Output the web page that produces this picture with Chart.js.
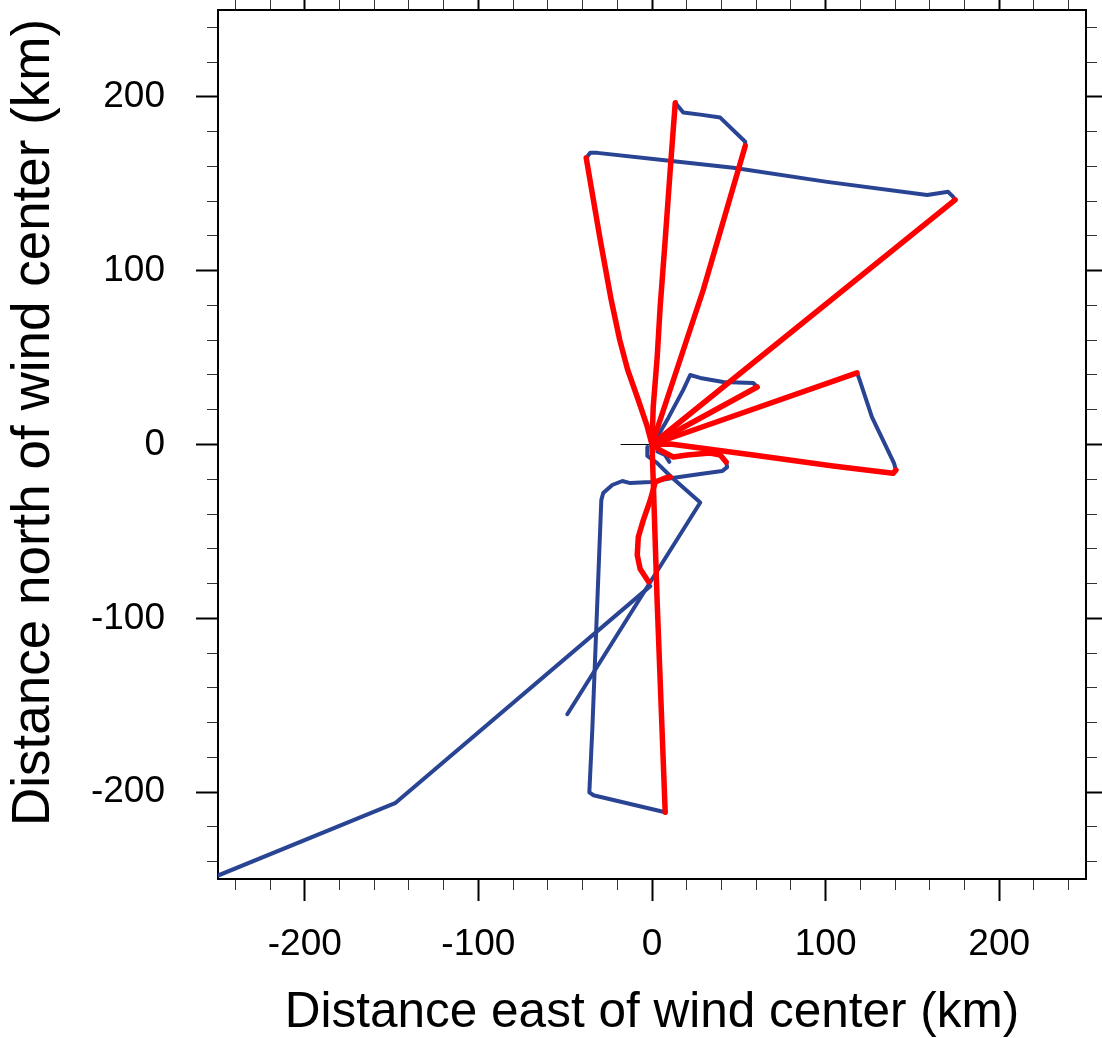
<!DOCTYPE html>
<html>
<head>
<meta charset="utf-8">
<script src="https://cdn.jsdelivr.net/npm/chart.js@4/dist/chart.umd.min.js"></script>
<style>
html,body{margin:0;padding:0;background:#fff;}
#wrap{width:1102px;height:1038px;position:relative;}
canvas{display:block;}
</style>
</head>
<body>
<div id="wrap"><canvas id="c" width="1102" height="1038"></canvas></div>
<script>
// ---- axis tick values ----
const axisMin = -250, axisMax = 250;
const majorTicks = [-200, -100, 0, 100, 200];
const minorTicks = [-240,-220,-180,-160,-140,-120,-80,-60,-40,-20,20,40,60,80,120,140,160,180,220,240];

// ---- blue track legs (km east, km north) ----
const blueLegSouthwest = [[-250,-248],[-148,-206.4],[-1,-81.5]];
const blueLegSouthEnd = [[-48.8,-155.2],[27.8,-33.4],[10.5,-18.1],[3.0,-10.7],[-2.7,-6.6],[-2.7,-1.4]];
const blueLegBox = [[42.7,-10.1],[43.3,-13.0],[40.4,-15.3],[27.8,-17.0],[11.7,-19.3],[-1.0,-21.6],[-12.5,-22.2],[-17.1,-21.0],[-22.9,-23.3],[-28.1,-27.9],[-29.2,-32.0],[-34.4,-164.4],[-36.1,-200.1],[-33.8,-201.8],[7.6,-211.6]];
const blueLegNorthTurn = [[13.4,196.6],[18.0,191.0],[27.8,189.8],[39.3,188.1],[53.7,174.2],[53.7,171.8]];
const blueLegNorthCross = [[-37.9,164.9],[-35.6,167.8],[-31.5,167.8],[4.7,163.8],[46.8,159.2],[100.9,151.1],[158.5,143.6],[170.6,145.4],[173.5,142.5],[174.6,140.8]];
const blueLegNortheastTurn = [[60.6,33.1],[58.3,35.4],[41.0,36.0],[27.8,38.3],[22.0,40.0],[18.0,31.4],[9.4,15.3],[4.7,7.2],[1.9,2.6]];
const blueLegEastTurn = [[118.1,41.2],[119.2,38.3],[126.7,15.8],[139.4,-10.7],[140.5,-14.7]];
const blueLegCenterHook = [[3,-4],[7.5,-6],[10,-10]];

// ---- red radial legs ----
const redLegLoop = [[-2,-79],[-6.8,-71.7],[-8.5,-63.6],[-7.9,-53.3],[-5.0,-43.5],[-1.0,-32.0],[1.9,-21.6],[7.6,-19.3],[10.5,-18.7]];
const redLegSouth = [[7.6,-211.6],[3.0,-91.2],[0.7,-20.4],[0,0]];
const redLegNorth = [[0,0],[0.7,21.6],[3.0,50.4],[4.7,79.2],[7.6,117.7],[10.5,158.0],[13.4,196.6]];
const redLegNNE = [[53.7,171.8],[29.5,88.9],[0,0]];
const redLegNNW = [[0,0],[-3.0,11.2],[-7.9,25.6],[-14.0,42.9],[-18.6,60.2],[-23.5,83.2],[-29.8,117.7],[-37.9,164.9]];
const redLegNE = [[174.6,140.8],[0,0]];
const redLegENE = [[0,0],[60.6,33.1]];
const redLegE = [[0,0],[118.1,41.2]];
const redLegESE = [[140.5,-14.7],[138.8,-16.6],[104.3,-12.4],[58.3,-6.0],[10.5,0.3],[0,0]];
const redLegHook = [[0,0],[4.7,-3.2],[12.2,-7.2],[20.3,-6.0],[33.5,-4.9],[39.3,-6.0],[42.7,-10.1]];

// ---- wind center marker ----
const centerMark = [[-18,0],[0,0]];

const blueLegs = [blueLegSouthwest, blueLegSouthEnd, blueLegBox, blueLegNorthTurn, blueLegNorthCross, blueLegNortheastTurn, blueLegEastTurn, blueLegCenterHook];
const redLegs = [redLegLoop, redLegSouth, redLegNorth, redLegNNE, redLegNNW, redLegNE, redLegENE, redLegE, redLegESE, redLegHook];

const BLUE = '#2a4494', RED = '#ff0000';
function mk(leg, color, w, order) {
  return {
    data: leg.map(p => ({x: p[0], y: p[1]})),
    showLine: true, borderColor: color, backgroundColor: color, borderWidth: w,
    pointRadius: 0, pointHoverRadius: 0, tension: 0, fill: false, order: order,
    borderJoinStyle: 'round', borderCapStyle: 'round', xAxisID: 'x', yAxisID: 'y'
  };
}
const datasets = [];
redLegs.forEach(l => datasets.push(mk(l, RED, 5.5, 0)));
blueLegs.forEach(l => datasets.push(mk(l, BLUE, 4, 1)));
datasets.push(mk(centerMark, '#000', 1, 2));

const FONT = "'Liberation Sans', Arial, Helvetica, sans-serif";
const setTicks = arr => (s => { s.ticks = arr.map(v => ({value: v})); });
const noPad = s => { s.paddingTop = 0; s.paddingBottom = 0; s.paddingLeft = 0; s.paddingRight = 0; };

function tickAxis(position, arr, len, w, weight, border) {
  const horiz = position === 'top' || position === 'bottom';
  return {
    type: 'linear', position: position, min: axisMin, max: axisMax, weight: weight,
    afterBuildTicks: setTicks(arr),
    afterFit: s => { if (horiz) s.height = 0; else s.width = 0; noPad(s); },
    grid: {drawOnChartArea: false, drawTicks: true, tickLength: len, tickWidth: w, tickColor: w > 1 ? '#000' : '#333'},
    border: {display: border, color: '#000', width: 2},
    ticks: {display: false}
  };
}

new Chart(document.getElementById('c'), {
  type: 'scatter',
  data: {datasets: datasets},
  options: {
    responsive: false, animation: false, devicePixelRatio: 1,
    layout: {padding: {top: 10, right: 16, bottom: 0, left: 0}},
    plugins: {legend: {display: false}, tooltip: {enabled: false}},
    events: [],
    scales: {
      x: {
        type: 'linear', position: 'bottom', min: axisMin, max: axisMax, weight: 0,
        afterBuildTicks: setTicks(majorTicks),
        afterFit: s => { s.height = 159; noPad(s); },
        grid: {drawOnChartArea: false, drawTicks: true, tickLength: 22, tickWidth: 2, tickColor: '#000'},
        border: {display: true, color: '#000', width: 2},
        ticks: {font: {family: FONT, size: 37}, color: '#000', padding: 22, maxRotation: 0, autoSkip: false},
        title: {display: true, text: 'Distance east of wind center (km)', color: '#000',
                font: {family: FONT, size: 49.5, lineHeight: 1}, padding: {top: 0, bottom: 0}}
      },
      xMinor: tickAxis('bottom', minorTicks, 11, 1, -1, false),
      xTop: tickAxis('top', majorTicks, 22, 2, 0, true),
      xTopMinor: tickAxis('top', minorTicks, 11, 1, -1, false),
      y: {
        type: 'linear', position: 'left', min: axisMin, max: axisMax, weight: 0,
        afterBuildTicks: setTicks(majorTicks),
        afterFit: s => { s.width = 218; noPad(s); },
        grid: {drawOnChartArea: false, drawTicks: true, tickLength: 22, tickWidth: 2, tickColor: '#000'},
        border: {display: true, color: '#000', width: 2},
        ticks: {font: {family: FONT, size: 37}, color: '#000', padding: 31, autoSkip: false},
        title: {display: true, text: '   Distance north of wind center (km)', color: '#000',
                font: {family: FONT, size: 53, lineHeight: 1}, padding: {top: 8, bottom: 0}}
      },
      yMinor: tickAxis('left', minorTicks, 11, 1, -1, false),
      yRight: tickAxis('right', majorTicks, 22, 2, 0, true),
      yRightMinor: tickAxis('right', minorTicks, 11, 1, -1, false)
    }
  }
});
</script>
</body>
</html>
